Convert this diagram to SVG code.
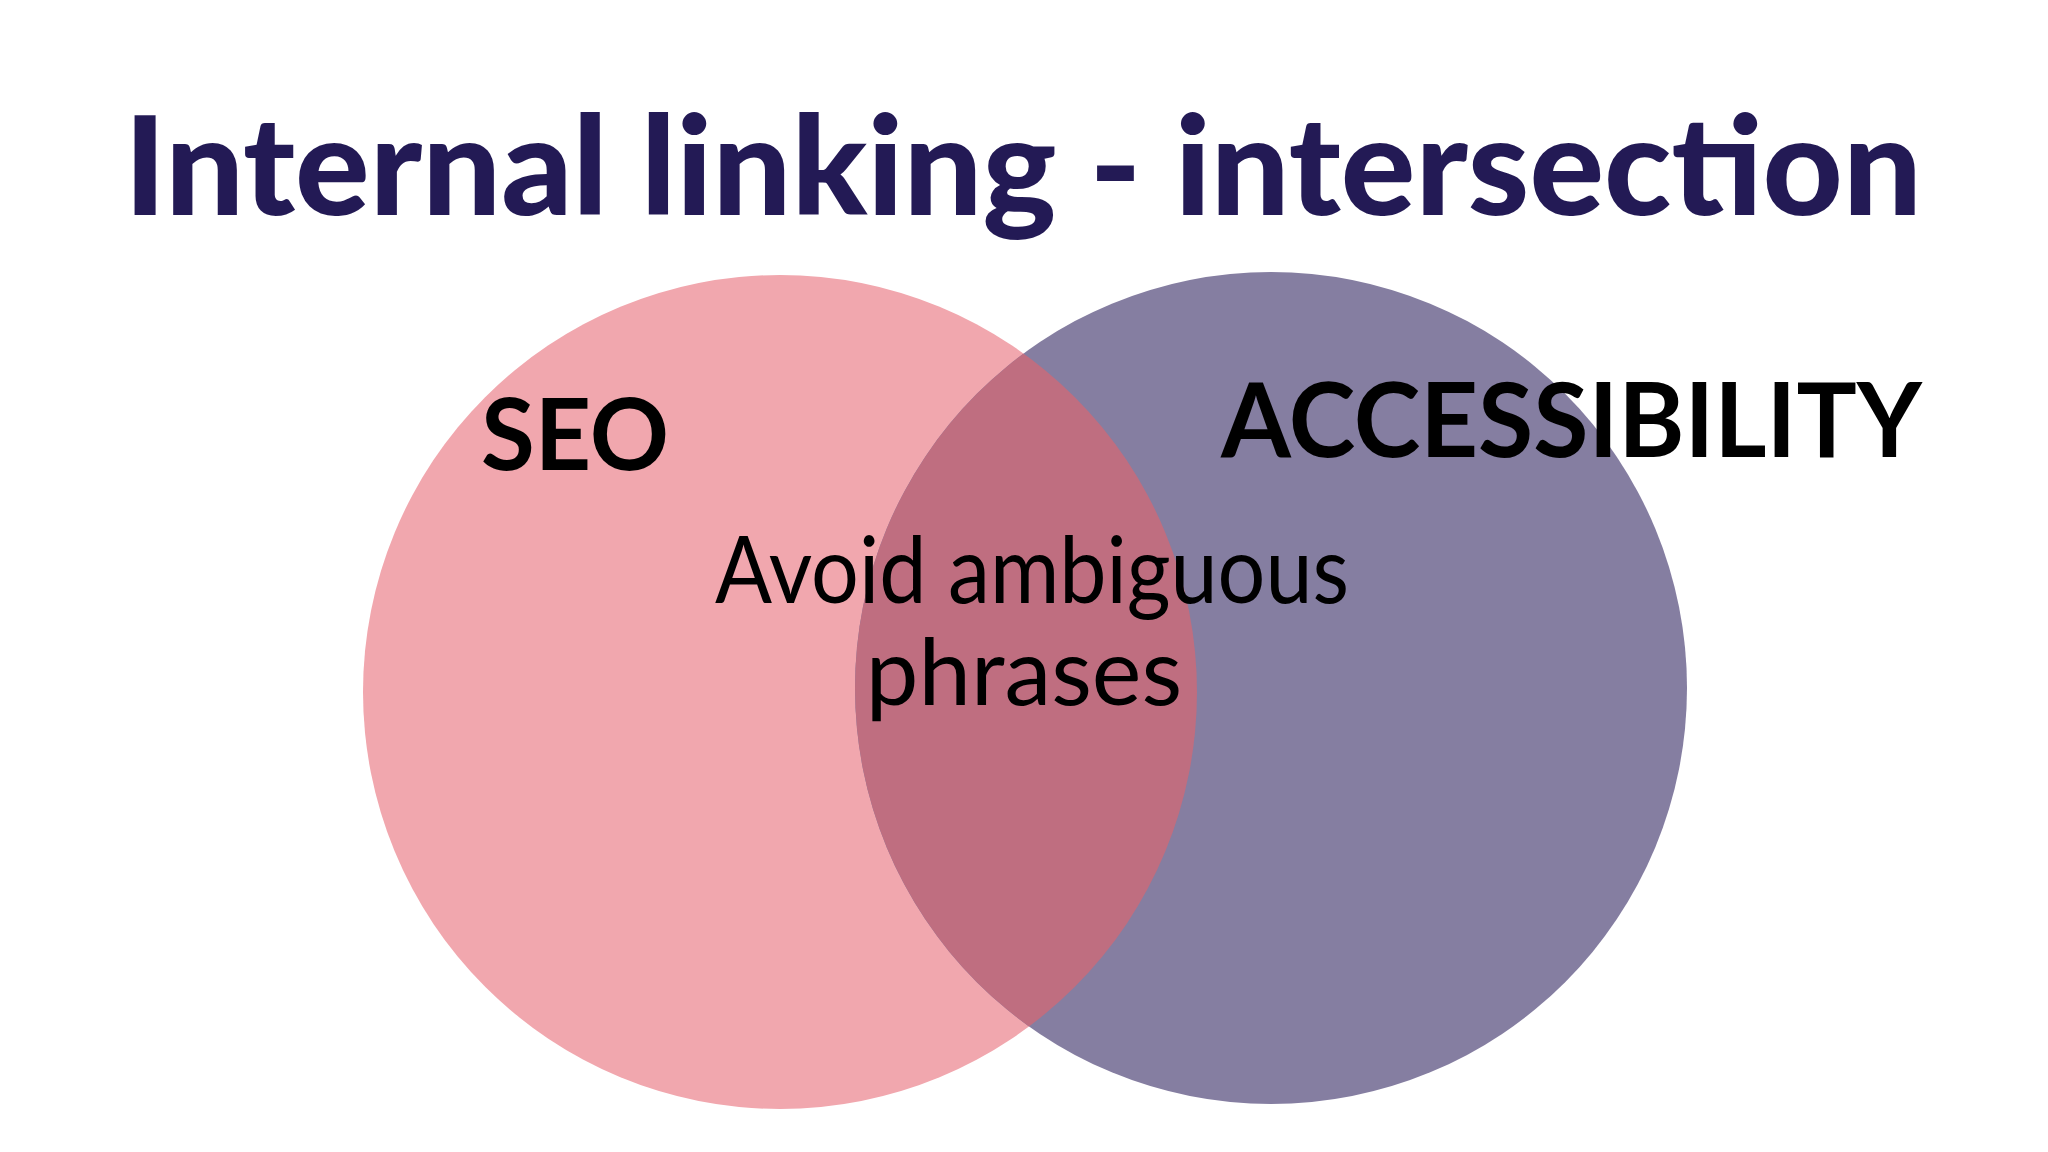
<svg xmlns="http://www.w3.org/2000/svg" width="2048" height="1152" viewBox="0 0 2048 1152">
<style>
.t{font-family:Lato,"Liberation Sans",sans-serif;fill:#000}
</style>
<defs><clipPath id="cl"><circle cx="780" cy="692" r="417"/></clipPath></defs>
<rect width="2048" height="1152" fill="#fff"/>
<g id="title"><text class="t" x="1023" y="215" text-anchor="middle" font-size="138" font-weight="900" style="fill:#231a55" textLength="1798" lengthAdjust="spacingAndGlyphs">Internal linking - intersection</text></g>
<g id="seo-circle"><circle cx="780" cy="692" r="417" fill="#f1a7ae"/></g>
<g id="accessibility-circle"><circle cx="1271" cy="688" r="416" fill="#857ea1"/>
<circle cx="1271" cy="688" r="416" fill="#bf6e80" clip-path="url(#cl)"/></g>
<g id="labels">
<text class="t" x="481" y="470" font-size="100" font-weight="700" textLength="188" lengthAdjust="spacingAndGlyphs">SEO</text>
<text class="t" x="1221" y="457" font-size="104" font-weight="700" textLength="701" lengthAdjust="spacingAndGlyphs">ACCESSIBILITY</text>
<text class="t" x="1032" y="603" font-size="94" text-anchor="middle" textLength="634" lengthAdjust="spacingAndGlyphs">Avoid ambiguous</text>
<text class="t" x="1024" y="705" font-size="94" text-anchor="middle">phrases</text>
</g>
<g id="connectors"/>
</svg>
